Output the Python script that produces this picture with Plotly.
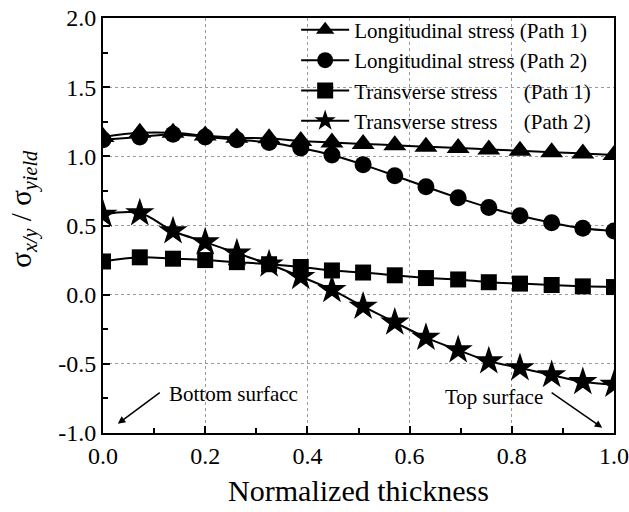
import plotly.graph_objects as go

thickness = [0.0, 0.072, 0.137, 0.200, 0.262, 0.325, 0.387, 0.448, 0.509,
             0.571, 0.632, 0.695, 0.755, 0.816, 0.878, 0.939, 1.0]
long_path1 = [1.14, 1.17, 1.17, 1.15, 1.135, 1.13, 1.11, 1.10, 1.09,
              1.08, 1.07, 1.06, 1.05, 1.04, 1.03, 1.02, 1.01]
long_path2 = [1.12, 1.14, 1.16, 1.14, 1.12, 1.10, 1.06, 1.01, 0.94,
              0.86, 0.78, 0.70, 0.63, 0.57, 0.52, 0.48, 0.46]
trans_path1 = [0.24, 0.27, 0.26, 0.25, 0.235, 0.22, 0.20, 0.175, 0.16,
               0.14, 0.12, 0.11, 0.09, 0.08, 0.07, 0.06, 0.055]
trans_path2 = [0.58, 0.59, 0.46, 0.38, 0.30, 0.22, 0.13, 0.035, -0.085,
               -0.20, -0.31, -0.40, -0.48, -0.53, -0.58, -0.63, -0.65]

x_tickvals = [0.0, 0.2, 0.4, 0.6, 0.8, 1.0]
x_ticktext = ["0.0", "0.2", "0.4", "0.6", "0.8", "1.0"]
y_tickvals = [-1.0, -0.5, 0.0, 0.5, 1.0, 1.5, 2.0]
y_ticktext = ["-1.0", "-0.5", "0.0", "0.5", "1.0", "1.5", "2.0"]

names = ["Longitudinal stress (Path 1)",
         "Longitudinal stress (Path 2)",
         "Transverse stress\u00a0\u00a0\u00a0\u00a0\u00a0(Path 1)",
         "Transverse stress\u00a0\u00a0\u00a0\u00a0\u00a0(Path 2)"]
series = [long_path1, long_path2, trans_path1, trans_path2]
symbols = ["triangle-up", "circle", "square", "star"]
sizes = [20, 17, 16, 22]

serif = "Liberation Serif"

fig = go.Figure()
for name, ys, sym, sz in zip(names, series, symbols, sizes):
    fig.add_trace(go.Scatter(
        x=thickness, y=ys, name=name, mode="lines+markers",
        line=dict(color="black", width=2, shape="spline"),
        marker=dict(symbol=sym, size=sz, color="black"),
    ))

axis_common = dict(
    showline=True, linecolor="black", linewidth=2, mirror=True,
    ticks="inside", ticklen=7, tickwidth=1.5, tickcolor="black",
    showgrid=True, gridcolor="#9a9a9a", griddash="dot", gridwidth=1,
    zeroline=False, automargin=False,
    tickfont=dict(family=serif, size=24, color="black"),
)

fig.update_xaxes(range=[0, 1], tickmode="array", tickvals=x_tickvals, ticktext=x_ticktext,
                 minor=dict(dtick=0.1, ticks="inside", ticklen=5, tickcolor="black", showgrid=False),
                 title=dict(text="Normalized thickness", font=dict(family=serif, size=30, color="black"), standoff=12),
                 **axis_common)
fig.update_yaxes(range=[-1, 2], tickmode="array", tickvals=y_tickvals, ticktext=y_ticktext,
                 minor=dict(dtick=0.25, ticks="inside", ticklen=5, tickcolor="black", showgrid=False),
                 **axis_common)

fig.add_annotation(
    text="σ<sub><i>x/y</i></sub> / σ<sub><i>yield</i></sub>",
    xref="paper", yref="paper", x=-0.155, y=0.54, textangle=-90,
    showarrow=False, xanchor="center", yanchor="middle",
    font=dict(family=serif, size=29, color="black"),
)

# Bottom surface arrow + text
fig.add_annotation(x=0.029, y=-0.933, ax=0.114, ay=-0.70, xref="x", yref="y",
                   axref="x", ayref="y", text="", showarrow=True,
                   arrowhead=2, arrowsize=1, arrowwidth=1.5, arrowcolor="black")
fig.add_annotation(x=0.256, y=-0.716, text="Bottom surfacc", showarrow=False,
                   xref="x", yref="y", font=dict(family=serif, size=21, color="black"))
# Top surface arrow + text
fig.add_annotation(x=0.977, y=-0.962, ax=0.875, ay=-0.70, xref="x", yref="y",
                   axref="x", ayref="y", text="", showarrow=True,
                   arrowhead=2, arrowsize=1, arrowwidth=1.5, arrowcolor="black")
fig.add_annotation(x=0.765, y=-0.737, text="Top surface", showarrow=False,
                   xref="x", yref="y", font=dict(family=serif, size=21, color="black"))

fig.update_layout(
    width=629, height=512,
    margin=dict(l=103, r=15, t=18, b=79, autoexpand=False),
    paper_bgcolor="white", plot_bgcolor="white",
    showlegend=True,
    legend=dict(x=0.378, y=1.02, xanchor="left", yanchor="top",
                bgcolor="rgba(0,0,0,0)", font=dict(family=serif, size=21, color="black"),
                itemwidth=48, tracegroupgap=0),
)

fig.write_html("out.html")
